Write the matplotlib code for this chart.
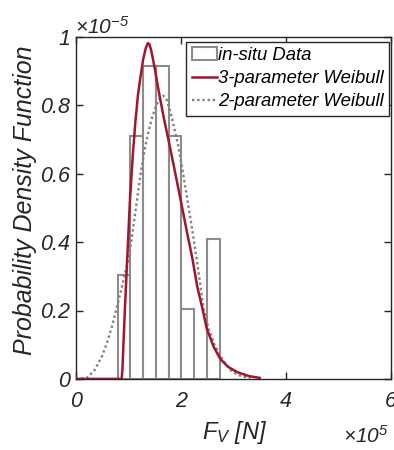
import matplotlib
matplotlib.use("Agg")
import matplotlib.pyplot as plt
import numpy as np

plt.rcParams['font.family'] = ['Liberation Sans', 'DejaVu Sans']
plt.rcParams['font.style'] = 'italic'
plt.rcParams['mathtext.fontset'] = 'custom'
plt.rcParams['mathtext.rm'] = 'Liberation Sans:italic'
plt.rcParams['mathtext.it'] = 'Liberation Sans:italic'
plt.rcParams['mathtext.bf'] = 'Liberation Sans:italic'

# Histogram (x in units of 1e5 N, density in units of 1e-5)
bin_edges = [0.794, 1.034, 1.28, 1.53, 1.766, 2.006, 2.25, 2.495, 2.737]
bin_heights = [0.305, 0.71, 0.915, 0.915, 0.71, 0.205, 0.0, 0.41]

# 3-parameter Weibull fit
w3_x = [0.0, 0.87, 0.885, 0.90, 0.93, 0.975, 1.03, 1.08, 1.13, 1.18, 1.23, 1.28,
        1.33, 1.37, 1.40, 1.43, 1.47, 1.51, 1.55, 1.61, 1.67, 1.78, 1.88, 1.99,
        2.10, 2.22, 2.31, 2.41, 2.49, 2.62, 2.75, 2.90, 3.07, 3.30, 3.50]
w3_y = [0.0, 0.0, 0.03, 0.09, 0.20, 0.35, 0.53, 0.65, 0.75, 0.83, 0.885, 0.935,
        0.968, 0.982, 0.978, 0.962, 0.932, 0.90, 0.863, 0.814, 0.765, 0.685, 0.61, 0.526,
        0.44, 0.35, 0.27, 0.205, 0.148, 0.095, 0.058, 0.035, 0.02, 0.008, 0.003]

# 2-parameter Weibull fit
w2_x = [0.0, 0.21, 0.35, 0.5, 0.6, 0.69, 0.77, 0.85, 0.92, 1.0, 1.07, 1.15, 1.23, 1.29,
        1.36, 1.45, 1.53, 1.60, 1.66, 1.72, 1.80, 1.87, 1.95, 2.03, 2.12, 2.21, 2.30,
        2.37, 2.43, 2.53, 2.64, 2.75, 2.87, 2.98, 3.15, 3.32]
w2_y = [0.0, 0.003, 0.025, 0.068, 0.11, 0.156, 0.205, 0.254, 0.30, 0.35, 0.42, 0.51, 0.60, 0.655,
        0.71, 0.765, 0.80, 0.822, 0.828, 0.82, 0.78, 0.735, 0.68, 0.61, 0.526, 0.44, 0.35,
        0.275, 0.205, 0.146, 0.10, 0.068, 0.04, 0.02, 0.008, 0.002]

x_ticks = [0, 2, 4, 6]
x_ticklabels = ['0', '2', '4', '6']
y_ticks = [0, 0.2, 0.4, 0.6, 0.8, 1.0]
y_ticklabels = ['0', '0.2', '0.4', '0.6', '0.8', '1']

axis_col = '#262626'
fig = plt.figure(figsize=(3.94, 4.5), dpi=100)
ax = fig.add_axes([0.193, 0.158, 0.799, 0.76])

widths = np.diff(bin_edges)
bars = ax.bar(bin_edges[:-1], bin_heights, width=widths, align='edge', facecolor='white',
              edgecolor='#8c8c8c', linewidth=1.5, label='in-situ Data', zorder=2)
l3, = ax.plot(w3_x, w3_y, color='#a2142f', linewidth=1.8, label='3-parameter Weibull', zorder=4)
l2, = ax.plot(w2_x, w2_y, color='#808080', linewidth=1.7, linestyle=(0, (1, 1.2)),
              label='2-parameter Weibull', zorder=3)

ax.set_xlim(0, 6)
ax.set_ylim(0, 1)
ax.set_xticks(x_ticks)
ax.set_xticklabels(x_ticklabels)
ax.set_yticks(y_ticks)
ax.set_yticklabels(y_ticklabels)
ax.tick_params(direction='in', length=5, width=1, colors=axis_col, labelsize=15.5,
               top=True, right=True)
ax.tick_params(axis='x', pad=9)
ax.tick_params(axis='y', pad=4)
for s in ax.spines.values():
    s.set_color(axis_col)
    s.set_linewidth(1.0)

leg = ax.legend([bars, l3, l2], ['in-situ Data', '3-parameter Weibull', '2-parameter Weibull'],
                loc='upper right', bbox_to_anchor=(0.995, 0.985), fontsize=13.3,
                frameon=True, fancybox=False, edgecolor='#262626', framealpha=1,
                handlelength=1.35, handletextpad=0.1, borderpad=0.28, labelspacing=0.33,
                borderaxespad=0.0)
leg.get_frame().set_linewidth(1.0)

fig.text(0.063, 0.555, 'Probability Density Function', rotation=90, fontsize=18,
         ha='center', va='center', color=axis_col)
fig.text(0.595, 0.038, r'$F_V\ [N]$', fontsize=17, ha='center', va='center', color=axis_col)
fig.text(0.19, 0.915, r'$\times10^{-5}$', fontsize=15, ha='left', va='bottom', color=axis_col)
fig.text(0.87, 0.032, r'$\times10^{5}$', fontsize=15, ha='left', va='center', color=axis_col)

fig.savefig('out.png', dpi=100)
